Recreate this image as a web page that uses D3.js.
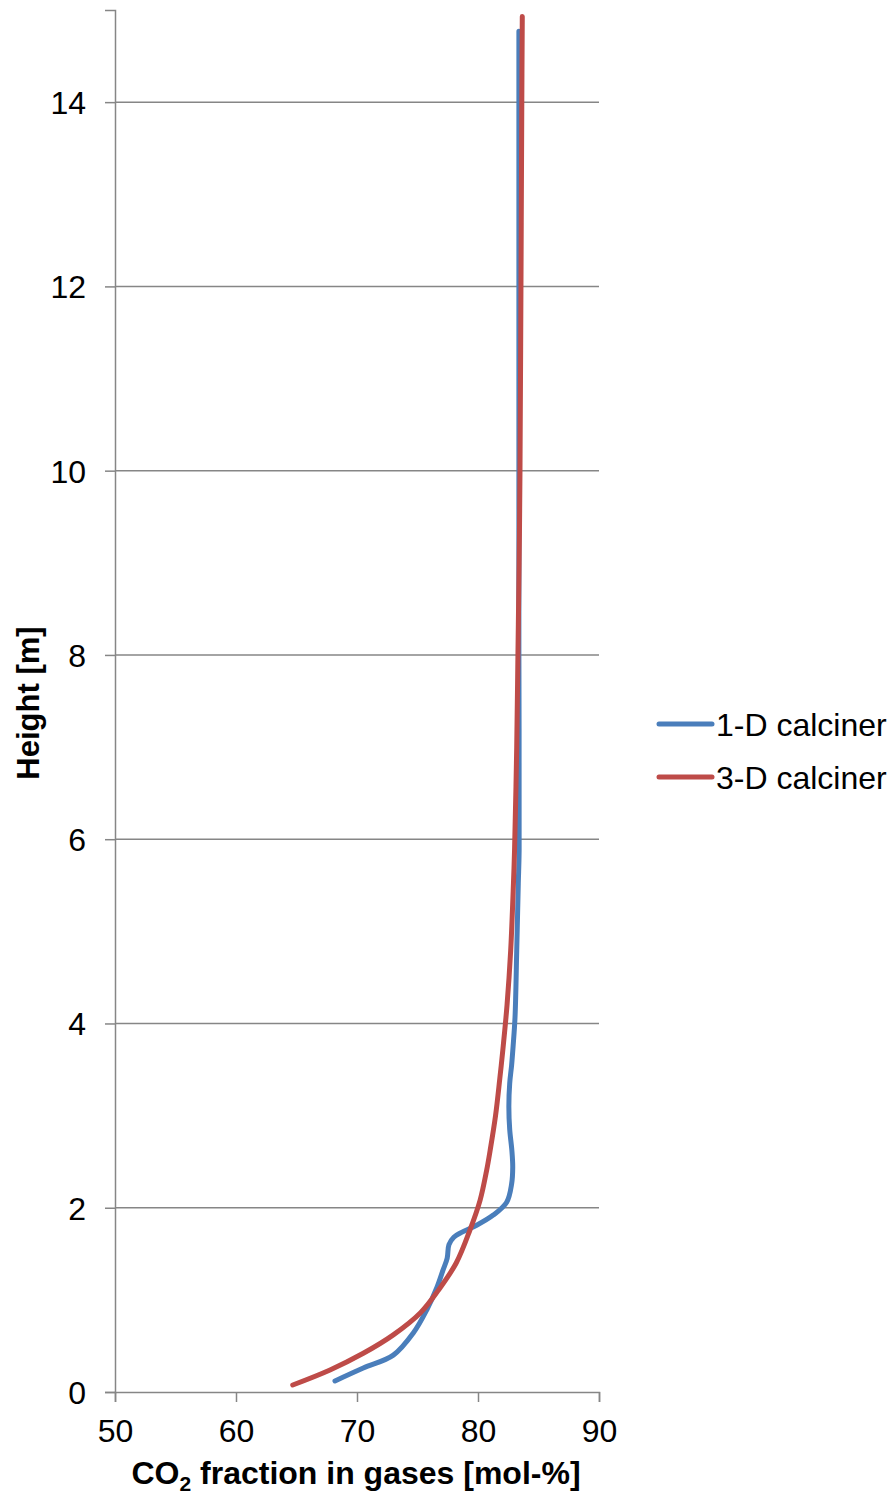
<!DOCTYPE html>
<html>
<head>
<meta charset="utf-8">
<script src="https://cdn.jsdelivr.net/npm/d3@7"></script>
<style>
  html, body { margin: 0; padding: 0; background: #fff; }
  svg { display: block; font-family: "Liberation Sans", Arial, sans-serif; }
</style>
</head>
<body>
<svg id="chart" width="893" height="1499"></svg>
<script>
// CO2 mole fraction [mol-%] vs. height [m]
const seriesNames = ["1-D calciner", "3-D calciner"];
const seriesColors = ["#4A7EBB", "#BE4B48"];

const oneD_co2 = [68.18, 70.52, 73.0, 74.65, 75.76, 76.62, 77.1, 77.45, 77.6, 78.0, 78.6, 79.89, 81.26, 82.37, 82.78, 82.87, 82.8, 82.62, 82.55, 82.62, 82.78, 82.9, 83.06, 83.2, 83.33, 83.4, 83.38, 83.38, 83.38, 83.38];
const oneD_height = [0.12, 0.26, 0.40, 0.64, 0.89, 1.14, 1.32, 1.45, 1.6, 1.68, 1.73, 1.81, 1.92, 2.06, 2.26, 2.44, 2.62, 2.85, 3.1, 3.35, 3.55, 3.75, 4.07, 4.79, 5.52, 5.88, 8, 10, 12, 14.77];

const threeD_co2 = [64.69, 67.77, 70.52, 73.0, 75.25, 76.7, 78.2, 79.34, 80.17, 80.72, 81.0, 81.45, 81.8, 82.05, 82.4, 82.7, 82.93, 83.02, 83.2, 83.3, 83.4, 83.47, 83.55, 83.62, 83.66];
const threeD_height = [0.076, 0.239, 0.42, 0.62, 0.86, 1.1, 1.4, 1.76, 2.08, 2.41, 2.62, 3.0, 3.4, 3.71, 4.2, 4.79, 5.52, 5.88, 7, 8, 9, 10, 12, 14, 14.93];

const xTicks = [50, 60, 70, 80, 90];
const yTicks = [0, 2, 4, 6, 8, 10, 12, 14];

const svg = d3.select("#chart");
const margin = { left: 115, right: 294, top: 10, bottom: 107 };
const W = 893, H = 1499;
const fontSize = 32;

const x = d3.scaleLinear().domain([50, 90]).range([margin.left, W - margin.right]);
const y = d3.scaleLinear().domain([0, 15]).range([H - margin.bottom, margin.top]);

const gridColor = "#868686";

// horizontal gridlines
svg.append("g").selectAll("line").data(yTicks.filter(d => d > 0)).join("line")
  .attr("x1", x(50)).attr("x2", x(90))
  .attr("y1", d => y(d)).attr("y2", d => y(d))
  .attr("stroke", gridColor).attr("stroke-width", 1.5);

// y axis
const yAxis = svg.append("g").attr("transform", `translate(${x(50)},0)`)
  .call(d3.axisLeft(y).tickValues(yTicks).tickSize(10).tickPadding(19).tickFormat(d3.format("d")));
yAxis.select(".domain").attr("stroke", gridColor).attr("stroke-width", 1.5);
yAxis.selectAll(".tick line").attr("stroke", gridColor).attr("stroke-width", 1.5);
yAxis.selectAll("text").attr("font-size", fontSize).attr("fill", "#000")
  .attr("font-family", "Liberation Sans, Arial, sans-serif").attr("dy", "0.36em");

// x axis
const xAxis = svg.append("g").attr("transform", `translate(0,${y(0)})`)
  .call(d3.axisBottom(x).tickValues(xTicks).tickSize(10).tickPadding(17).tickFormat(d3.format("d")));
xAxis.select(".domain").attr("stroke", gridColor).attr("stroke-width", 1.5);
xAxis.selectAll(".tick line").attr("stroke", gridColor).attr("stroke-width", 1.5);
xAxis.selectAll("text").attr("font-size", fontSize).attr("fill", "#000")
  .attr("font-family", "Liberation Sans, Arial, sans-serif");

// series lines
const line = d3.line().x(d => x(d[0])).y(d => y(d[1])).curve(d3.curveCatmullRom.alpha(0.5));
const series = [
  d3.zip(oneD_co2, oneD_height),
  d3.zip(threeD_co2, threeD_height)
];
series.forEach((pts, i) => {
  svg.append("path").datum(pts)
    .attr("d", line)
    .attr("fill", "none")
    .attr("stroke", seriesColors[i])
    .attr("stroke-width", 5)
    .attr("stroke-linecap", "round")
    .attr("stroke-linejoin", "round");
});

// axis titles
svg.append("text")
  .attr("transform", `translate(39,703) rotate(-90)`)
  .attr("text-anchor", "middle")
  .attr("font-size", 31).attr("font-weight", "bold").attr("fill", "#000")
  .text("Height [m]");

const xt = svg.append("text")
  .attr("x", (x(50) + x(90)) / 2 - 1)
  .attr("y", 1484)
  .attr("text-anchor", "middle")
  .attr("font-size", 32).attr("font-weight", "bold").attr("fill", "#000");
xt.append("tspan").text("CO");
xt.append("tspan").attr("font-size", 21).attr("dy", 7).text("2");
xt.append("tspan").attr("dy", -7).text(" fraction in gases [mol-%]");

// legend
const legend = svg.append("g");
seriesNames.forEach((name, i) => {
  const ly = 724 + i * 53;
  legend.append("line")
    .attr("x1", 659).attr("x2", 712).attr("y1", ly).attr("y2", ly)
    .attr("stroke", seriesColors[i]).attr("stroke-width", 5).attr("stroke-linecap", "round");
  legend.append("text")
    .attr("x", 716).attr("y", ly).attr("dy", "0.36em")
    .attr("font-size", fontSize).attr("fill", "#000")
    .text(name);
});
</script>
</body>
</html>
